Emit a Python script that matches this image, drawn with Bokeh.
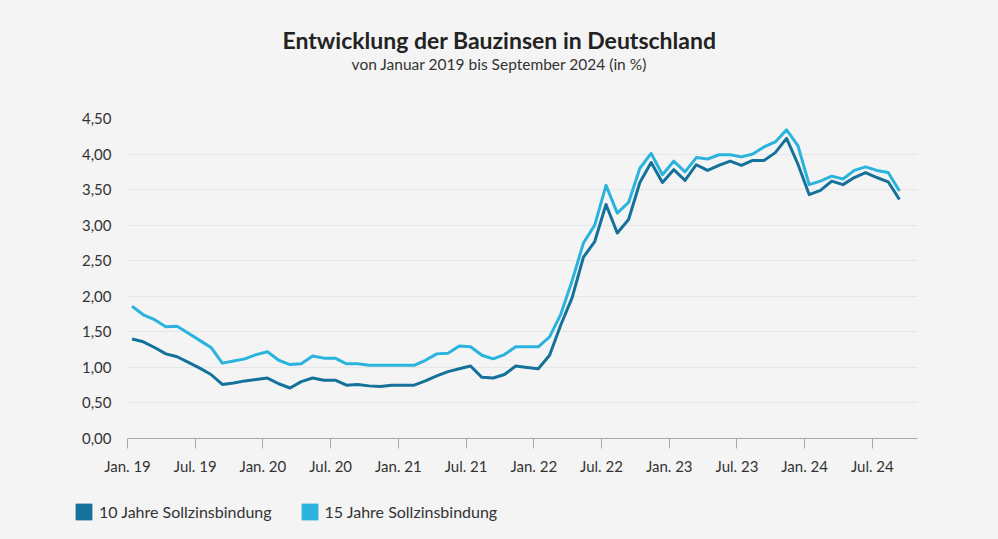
from bokeh.plotting import figure
from bokeh.layouts import column
from bokeh.models import Range1d, FixedTicker, Legend, LegendItem, ColumnDataSource
from bokeh.core.properties import value
from bokeh.embed import file_html
from bokeh.resources import INLINE

# ---- data (monthly, Jan 2019 .. Sep 2024) ----
month_index = list(range(69))
zins_10_jahre = [1.40, 1.36, 1.28, 1.19, 1.15, 1.07, 0.99, 0.90, 0.76, 0.78,
                 0.81, 0.83, 0.85, 0.77, 0.71, 0.80, 0.85, 0.82, 0.82, 0.75,
                 0.76, 0.74, 0.73, 0.75, 0.75, 0.75, 0.81, 0.88, 0.94, 0.98,
                 1.02, 0.86, 0.85, 0.90, 1.02, 1.00, 0.98, 1.17, 1.60, 1.98,
                 2.55, 2.77, 3.29, 2.89, 3.08, 3.60, 3.88, 3.60, 3.78, 3.63,
                 3.85, 3.77, 3.84, 3.90, 3.84, 3.91, 3.91, 4.02, 4.22, 3.86,
                 3.43, 3.49, 3.62, 3.57, 3.67, 3.74, 3.67, 3.61, 3.36]
zins_15_jahre = [1.86, 1.74, 1.67, 1.57, 1.58, 1.48, 1.38, 1.28, 1.06, 1.09,
                 1.12, 1.18, 1.22, 1.10, 1.04, 1.05, 1.16, 1.13, 1.13, 1.05,
                 1.05, 1.03, 1.03, 1.03, 1.03, 1.03, 1.10, 1.19, 1.20, 1.30,
                 1.29, 1.17, 1.12, 1.18, 1.29, 1.29, 1.29, 1.43, 1.75, 2.22,
                 2.75, 3.00, 3.56, 3.17, 3.32, 3.80, 4.01, 3.71, 3.90, 3.75,
                 3.95, 3.93, 3.99, 3.99, 3.96, 4.00, 4.10, 4.17, 4.34, 4.12,
                 3.57, 3.62, 3.69, 3.65, 3.77, 3.82, 3.77, 3.74, 3.48]
xtick_pos = [0, 6, 12, 18, 24, 30, 36, 42, 48, 54, 60, 66]
xtick_labels = ["Jan. 19", "Jul. 19", "Jan. 20", "Jul. 20", "Jan. 21", "Jul. 21",
                "Jan. 22", "Jul. 22", "Jan. 23", "Jul. 23", "Jan. 24", "Jul. 24"]
ytick_pos = [0, 0.5, 1, 1.5, 2, 2.5, 3, 3.5, 4, 4.5]
ytick_labels = ["0,00", "0,50", "1,00", "1,50", "2,00", "2,50", "3,00", "3,50", "4,00", "4,50"]
series_names = ["10 Jahre Sollzinsbindung", "15 Jahre Sollzinsbindung"]
title_text = "Entwicklung der Bauzinsen in Deutschland"
subtitle_text = "von Januar 2019 bis September 2024 (in %)"

# ---- style ----
BG = "#f4f4f4"
DARK = "#14729a"
LIGHT = "#2ab4dd"
FONT = "Lato"
TXT = "#333333"
W = 998


def blank_fig(height, y_top):
    f = figure(width=W, height=height, output_backend="svg", toolbar_location=None,
               x_range=Range1d(0, W), y_range=Range1d(y_top + height, y_top),
               x_axis_type=None, y_axis_type=None, min_border=0,
               background_fill_color=BG, border_fill_color=BG, outline_line_color=None)
    f.grid.grid_line_color = None
    f.frame_align = False
    return f


# ---- title block ----
ft = blank_fig(100, 0)
ft.text(x=[W / 2], y=[39], text=[title_text], text_align="center", text_baseline="middle",
        text_font=value(FONT), text_font_style="bold", text_font_size="23px", text_color="#222222")
ft.text(x=[W / 2], y=[63], text=[subtitle_text], text_align="center", text_baseline="middle",
        text_font=value(FONT), text_font_size="15.5px", text_color=TXT)

# ---- main chart ----
x_vals = [m + 0.4 for m in month_index]
src = ColumnDataSource(dict(x=x_vals, z10=zins_10_jahre, z15=zins_15_jahre))

p = figure(width=W, height=378, output_backend="svg", toolbar_location=None,
           x_range=Range1d(0, 70), y_range=Range1d(0, 4.5),
           min_border_left=127, min_border_right=81, min_border_top=18, min_border_bottom=40,
           background_fill_color=BG, border_fill_color=BG, outline_line_color=None)
p.frame_align = False

p.line("x", "z15", source=src, line_color=LIGHT, line_width=3, line_join="round")
p.line("x", "z10", source=src, line_color=DARK, line_width=3, line_join="round")


def key(v):
    return int(v) if float(v).is_integer() else v


p.yaxis.ticker = FixedTicker(ticks=ytick_pos)
p.yaxis.major_label_overrides = {key(v): l for v, l in zip(ytick_pos, ytick_labels)}
p.yaxis.axis_line_color = None
p.yaxis.major_tick_line_color = None
p.yaxis.minor_tick_line_color = None
p.yaxis.major_tick_out = 0
p.yaxis.major_label_standoff = 16
p.yaxis.major_label_text_font = FONT
p.yaxis.major_label_text_font_size = "15px"
p.yaxis.major_label_text_color = TXT

p.xaxis.ticker = FixedTicker(ticks=xtick_pos)
p.xaxis.major_label_overrides = {key(v): l for v, l in zip(xtick_pos, xtick_labels)}
p.xaxis.axis_line_color = "#a8a8a8"
p.xaxis.major_tick_line_color = "#a8a8a8"
p.xaxis.minor_tick_line_color = None
p.xaxis.major_tick_out = 10
p.xaxis.major_tick_in = 0
p.xaxis.major_label_standoff = 8
p.xaxis.major_label_text_font = FONT
p.xaxis.major_label_text_font_size = "15px"
p.xaxis.major_label_text_color = TXT

p.xgrid.grid_line_color = None
p.ygrid.grid_line_color = "#e6e6e6"
p.ygrid.ticker = FixedTicker(ticks=ytick_pos)

# ---- legend block (legend swatches only; renderers hold no visible data) ----
fl = blank_fig(61, 478)
nan = float("nan")
q10 = fl.quad(left=[nan], right=[nan], top=[nan], bottom=[nan], fill_color=DARK, line_color=None)
q15 = fl.quad(left=[nan], right=[nan], top=[nan], bottom=[nan], fill_color=LIGHT, line_color=None)
legend = Legend(items=[LegendItem(label=series_names[0], renderers=[q10]),
                       LegendItem(label=series_names[1], renderers=[q15])],
                orientation="horizontal", location=(73, 17),
                glyph_width=21, glyph_height=21, label_standoff=5, spacing=27,
                padding=0, margin=0, background_fill_alpha=0, border_line_color=None,
                label_text_font=FONT, label_text_font_size="16px", label_text_color=TXT)
fl.add_layout(legend, "center")

layout = column(ft, p, fl, spacing=0)
html = file_html(layout, INLINE)
html = html.replace("<head>", "<head><style>html,body{background-color:#f4f4f4;}</style>", 1)
open("out.html", "w").write(html)
